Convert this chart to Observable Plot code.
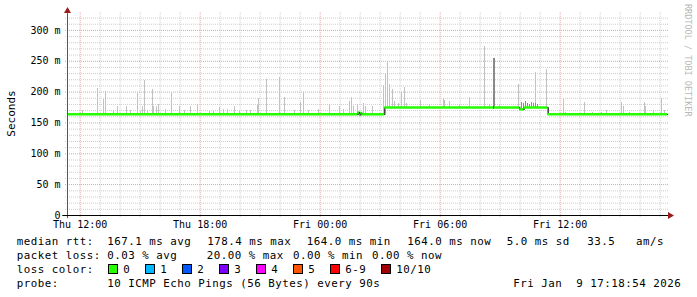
<!DOCTYPE html>
<html><head><meta charset="utf-8">
<script src="https://cdn.jsdelivr.net/npm/d3@7"></script>
<script src="https://cdn.jsdelivr.net/npm/@observablehq/plot@0.6"></script>
<style>
html,body{margin:0;padding:0;background:#fff;}
svg text{white-space:pre;}
</style></head><body><div id="chart"></div>
<script>
// ---- data ----
const startTime = "2026-01-08T11:22Z";
const endTime = "2026-01-09T17:22Z";
const yTickValues = [0, 50, 100, 150, 200, 250, 300];

// smoke spikes (time, top in ms)
const spikeTimes = [
 "2026-01-08T12:06Z","2026-01-08T12:53Z","2026-01-08T13:11Z","2026-01-08T13:15Z","2026-01-08T13:41Z",
 "2026-01-08T13:53Z","2026-01-08T14:19Z","2026-01-08T14:32Z","2026-01-08T14:51Z","2026-01-08T15:01Z",
 "2026-01-08T15:08Z","2026-01-08T15:12Z","2026-01-08T15:22Z","2026-01-08T15:37Z","2026-01-08T15:41Z",
 "2026-01-08T15:49Z","2026-01-08T15:55Z","2026-01-08T16:16Z","2026-01-08T16:35Z","2026-01-08T16:57Z",
 "2026-01-08T17:14Z","2026-01-08T17:31Z","2026-01-08T17:51Z","2026-01-08T18:29Z","2026-01-08T18:39Z",
 "2026-01-08T18:57Z","2026-01-08T19:09Z","2026-01-08T19:21Z","2026-01-08T19:44Z","2026-01-08T19:59Z",
 "2026-01-08T20:19Z","2026-01-08T20:32Z","2026-01-08T20:51Z","2026-01-08T20:54Z","2026-01-08T21:19Z",
 "2026-01-08T21:59Z","2026-01-08T22:14Z","2026-01-08T22:44Z","2026-01-08T23:02Z","2026-01-08T23:09Z",
 "2026-01-08T23:24Z","2026-01-08T23:54Z",
 "2026-01-09T00:29Z","2026-01-09T00:59Z","2026-01-09T01:11Z","2026-01-09T01:27Z","2026-01-09T01:34Z",
 "2026-01-09T01:41Z","2026-01-09T01:51Z","2026-01-09T02:09Z","2026-01-09T02:15Z","2026-01-09T02:37Z",
 "2026-01-09T03:09Z","2026-01-09T03:17Z","2026-01-09T03:22Z","2026-01-09T03:29Z","2026-01-09T03:36Z",
 "2026-01-09T03:44Z","2026-01-09T03:54Z","2026-01-09T04:04Z","2026-01-09T04:14Z","2026-01-09T04:19Z",
 "2026-01-09T05:01Z","2026-01-09T05:29Z","2026-01-09T06:09Z","2026-01-09T06:14Z","2026-01-09T06:27Z",
 "2026-01-09T06:57Z","2026-01-09T07:27Z","2026-01-09T08:14Z","2026-01-09T08:27Z","2026-01-09T08:59Z",
 "2026-01-09T09:54Z","2026-01-09T10:47Z","2026-01-09T11:19Z","2026-01-09T12:09Z","2026-01-09T12:17Z",
 "2026-01-09T13:14Z","2026-01-09T13:37Z","2026-01-09T14:04Z","2026-01-09T14:19Z","2026-01-09T15:04Z",
 "2026-01-09T15:09Z","2026-01-09T15:27Z","2026-01-09T16:12Z","2026-01-09T16:17Z","2026-01-09T16:39Z",
 "2026-01-09T17:04Z","2026-01-09T17:14Z"
];
const spikeTops = [
 170,206,188,201,170, 176,176,170,198,168, 176,218,168,204,177, 177,180,172,198,176,
 170,176,180,168,168, 175,172,172,176,168, 170,170,178,189,220, 224,192,170,183,200,
 170,172,
 180,177,172,184,191, 177,180,182,177,176, 211,230,250,213,205, 184,182,200,208,182,
 186,180,189,187,184, 178,192,274,180,178, 212,232,237,188,167, 183,167,167,170,183,
 176,167,183,176,170, 190,170
];
// darker smoke
const darkSpikeTimes = ["2026-01-09T08:41Z","2026-01-09T10:04Z","2026-01-09T10:10Z","2026-01-09T10:16Z","2026-01-09T10:22Z","2026-01-09T10:28Z","2026-01-09T10:34Z","2026-01-09T10:40Z","2026-01-09T10:46Z","2026-01-09T10:52Z"];
const darkSpikeTops = [254, 183, 181, 184, 182, 180, 183, 181, 182, 180];

// median rtt segments
const medianStarts = ["2026-01-08T11:22Z","2026-01-09T01:54Z","2026-01-09T01:58Z","2026-01-09T02:02Z","2026-01-09T02:06Z","2026-01-09T03:14Z","2026-01-09T08:40Z","2026-01-09T08:43Z","2026-01-09T09:59Z","2026-01-09T10:12Z","2026-01-09T11:24Z"];
const medianEnds   = ["2026-01-09T01:54Z","2026-01-09T01:58Z","2026-01-09T02:02Z","2026-01-09T02:06Z","2026-01-09T03:14Z","2026-01-09T08:40Z","2026-01-09T08:43Z","2026-01-09T09:59Z","2026-01-09T10:12Z","2026-01-09T11:24Z","2026-01-09T17:22Z"];
const medianValues = [164, 167, 163, 166, 164, 175, 175, 175, 172, 175, 164];
const medianLoss   = [0, 0, 0, 0, 0, 0, 2, 0, 0, 0, 0];

const lossLabels = ["0", "1", "2", "3", "4", "5", "6-9", "10/10"];
const lossColors = ["#26ff00", "#00b8ff", "#0059ff", "#7e00ff", "#ff00ff", "#ff5500", "#ff0000", "#a10000"];

const legendMedian = ["median rtt:", "167.1 ms avg", "178.4 ms max", "164.0 ms min", "164.0 ms now", "5.0 ms sd", "33.5", "am/s"];
const legendLoss = ["packet loss:", "0.03 % avg", "20.00 % max", "0.00 % min", "0.00 % now"];
const legendColorTitle = "loss color:";
const legendProbe = ["probe:", "10 ICMP Echo Pings (56 Bytes) every 90s", "Fri Jan  9 17:18:54 2026"];
const yLabel = "Seconds";
const watermark = "RRDTOOL / TOBI OETIKER";

// ---- build ----
const T = s => new Date(s);
const x0 = T(startTime), x1 = T(endTime);
const medSeg = medianStarts.map((s, i) => ({t1: T(s), t2: T(medianEnds[i]), v: medianValues[i], c: lossColors[medianLoss[i]]}));
const baseAt = t => { const s = medSeg.find(d => t >= d.t1 && t < d.t2); return s ? s.v : medianValues[medianValues.length - 1]; };
const spikes = spikeTimes.map((s, i) => ({t: T(s), top: spikeTops[i], base: baseAt(T(s))}));
const darkSpikes = darkSpikeTimes.map((s, i) => ({t: T(s), top: darkSpikeTops[i], base: baseAt(T(s))}));
const medPts = medSeg.flatMap(d => [{t: d.t1, v: d.v}, {t: d.t2, v: d.v}]);

const hours = d3.utcHour.range(d3.utcHour.ceil(x0), x1);
const majorX = hours.filter(d => d.getUTCHours() % 6 === 0);
const minorX = hours.filter(d => d.getUTCHours() % 6 !== 0);
const majorY = yTickValues.filter(v => v > 0);
const minorY = d3.range(10, 330, 10).filter(v => v % 50 !== 0);
const ext1 = new Date(+x0 - 6 * 60000), ext2 = new Date(+x1 + 4 * 60000);

const svg = Plot.plot({
  width: 697, height: 297,
  marginLeft: 67, marginRight: 30, marginTop: 12, marginBottom: 82,
  style: {fontFamily: "'DejaVu Sans Mono', monospace", fontSize: "10px", background: "#fff", color: "#000", overflow: "visible"},
  x: {type: "utc", domain: [x0, x1], label: null},
  y: {domain: [0, 329], label: null},
  marks: [
    Plot.ruleY(minorY, {x1: () => ext1, x2: () => ext2, stroke: "#cdcdcd", strokeDasharray: "1,1"}),
    Plot.ruleX(minorX, {y1: -3, y2: 329, stroke: "#cdcdcd", strokeDasharray: "1,1"}),
    Plot.ruleY(majorY, {x1: () => ext1, x2: () => ext2, stroke: "#e3a0a0", strokeDasharray: "1,1"}),
    Plot.ruleX(majorX, {y1: -3, y2: 329, stroke: "#e3a0a0", strokeDasharray: "1,1"}),
    Plot.ruleX(spikes, {x: "t", y1: "base", y2: "top", stroke: "#c2c2c2", strokeWidth: 1, shapeRendering: "crispEdges"}),
    Plot.ruleX(darkSpikes, {x: "t", y1: "base", y2: "top", stroke: "#8a8a8a", strokeWidth: 1.5, shapeRendering: "crispEdges"}),
    Plot.line(medPts, {x: "t", y: "v", stroke: "#111", strokeWidth: 1.2}),
    Plot.ruleY(medSeg, {x1: "t1", x2: "t2", y: "v", stroke: "c", strokeWidth: 2.5}),
    Plot.ruleX([x0], {y1: -5, y2: 327, stroke: "#555"}),
    Plot.ruleY([0], {x1: () => new Date(+x0 - 14 * 60000), x2: () => new Date(+x1 + 6 * 60000), stroke: "#000"}),
    Plot.axisY(yTickValues, {tickSize: 0, tickPadding: 7, fontSize: 10, tickFormat: d => d === 0 ? "0" : d + " m", label: null}),
    Plot.axisX(majorX, {tickSize: 0, tickPadding: 5, fontSize: 10, tickFormat: d3.utcFormat("%a %H:%M"), label: null})
  ]
});
document.getElementById("chart").appendChild(svg);

const xs = svg.scale("x"), ys = svg.scale("y");
const ax = xs.apply(x0) + 0.5, ay = ys.apply(0) + 0.5, topY = ys.apply(329), rightX = xs.apply(x1);
const s = d3.select(svg);
const arrowColor = "#9b1c1c";
s.append("path").attr("d", `M${ax - 3.5},${topY + 1}L${ax + 3.5},${topY + 1}L${ax},${topY - 5}Z`).attr("fill", arrowColor);
s.append("path").attr("d", `M${rightX + 1},${ay - 3.5}L${rightX + 1},${ay + 3.5}L${rightX + 7},${ay}Z`).attr("fill", arrowColor);

// y label
s.append("text").attr("transform", `translate(15,113.5) rotate(-90)`).attr("text-anchor", "middle")
  .attr("font-family", "'DejaVu Sans Mono', monospace").attr("font-size", "11px").attr("fill", "#000").text(yLabel);
// watermark
s.append("text").attr("transform", `translate(684.5,4) rotate(90)`).attr("text-anchor", "start").attr("font-family", "'DejaVu Sans Mono', monospace")
  .attr("font-size", "8.5px").attr("fill", "#b8b8b8").text(watermark);

// legend
const lg = s.append("g").attr("font-family", "'DejaVu Sans Mono', monospace").attr("font-size", "10.8px")
  .attr("letter-spacing", "0.5px").attr("fill", "#000").attr("text-anchor", "start");
const row = (y, items) => items.forEach(([x, t]) => lg.append("text").attr("x", x).attr("y", y).attr("text-anchor", "start").text(t));
const medX = [16.7, 107.3, 207.3, 306.7, 407.3, 506.7, 587.3, 636];
row(245, legendMedian.map((t, i) => [medX[i], t]));
const lossX = [16.7, 107.3, 206.7, 293, 372];
row(259, legendLoss.map((t, i) => [lossX[i], t]));
row(273, [[16.7, legendColorTitle]]);
let sx = 108;
lossLabels.forEach((lab, i) => {
  lg.append("rect").attr("x", sx + 0.5).attr("y", 264.5).attr("width", 9).attr("height", 9)
    .attr("fill", lossColors[i]).attr("stroke", "#000").attr("stroke-width", 1);
  lg.append("text").attr("x", sx + 15.3).attr("y", 273).attr("text-anchor", "start").text(lab);
  sx += 30 + 7 * lab.length;
});
row(286.7, [[16.7, legendProbe[0]], [107.3, legendProbe[1]], [513.3, legendProbe[2]]]);
</script></body></html>
